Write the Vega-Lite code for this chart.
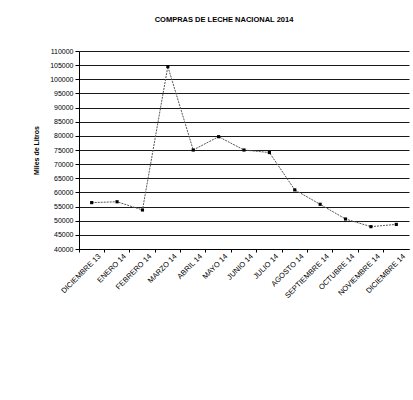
{
  "$schema": "https://vega.github.io/schema/vega-lite/v6.json",
  "autosize": "none",
  "width": 330,
  "height": 198,
  "padding": {"left": 79, "top": 51, "right": 4, "bottom": 151},
  "background": "white",
  "title": {
    "text": "COMPRAS DE LECHE NACIONAL 2014",
    "font": "Liberation Sans",
    "fontSize": 7.5,
    "fontWeight": "bold",
    "color": "black",
    "offset": 24,
    "anchor": "middle",
    "dx": -20
  },
  "config": {
    "view": {"stroke": null},
    "axis": {"labelFont": "Liberation Sans", "titleFont": "Liberation Sans", "labelColor": "black", "titleColor": "black", "domainColor": "black", "tickColor": "black"}
  },
  "data": {
    "values": [
      {"mes": "DICIEMBRE 13", "v": 56400},
      {"mes": "ENERO 14", "v": 56700},
      {"mes": "FEBRERO 14", "v": 53800},
      {"mes": "MARZO 14", "v": 104500},
      {"mes": "ABRIL 14", "v": 75000},
      {"mes": "MAYO 14", "v": 79700},
      {"mes": "JUNIO 14", "v": 75000},
      {"mes": "JULIO 14", "v": 74100},
      {"mes": "AGOSTO 14", "v": 60900},
      {"mes": "SEPTIEMBRE 14", "v": 55800},
      {"mes": "OCTUBRE 14", "v": 50600},
      {"mes": "NOVIEMBRE 14", "v": 47900},
      {"mes": "DICIEMBRE 14", "v": 48700}
    ]
  },
  "encoding": {
    "x": {
      "field": "mes", "type": "ordinal", "sort": null,
      "scale": {"type": "band", "paddingInner": 0, "paddingOuter": 0},
      "axis": {"title": null, "bandPosition": 0, "labelOffset": 8, "labelAngle": -45, "labelFontSize": 7.5, "labelAlign": "right", "labelBaseline": "middle", "tickSize": 3, "labelPadding": 3, "grid": false}
    },
    "y": {
      "field": "v", "type": "quantitative",
      "scale": {"domain": [40000, 110000], "nice": false, "zero": false},
      "axis": {"title": "Miles de Litros", "titleFontSize": 7, "titleFontWeight": "bold", "titlePadding": 10, "values": [40000,45000,50000,55000,60000,65000,70000,75000,80000,85000,90000,95000,100000,105000,110000], "labelFontSize": 7, "tickSize": 4, "labelPadding": 2, "grid": true, "gridColor": "black", "gridOpacity": 0.9, "gridWidth": 1, "format": "d"}
    }
  },
  "layer": [
    {"mark": {"type": "line", "color": "#555", "strokeWidth": 1, "strokeDash": [2, 1]}},
    {"mark": {"type": "square", "color": "black", "filled": true, "size": 10, "opacity": 1}}
  ]
}
